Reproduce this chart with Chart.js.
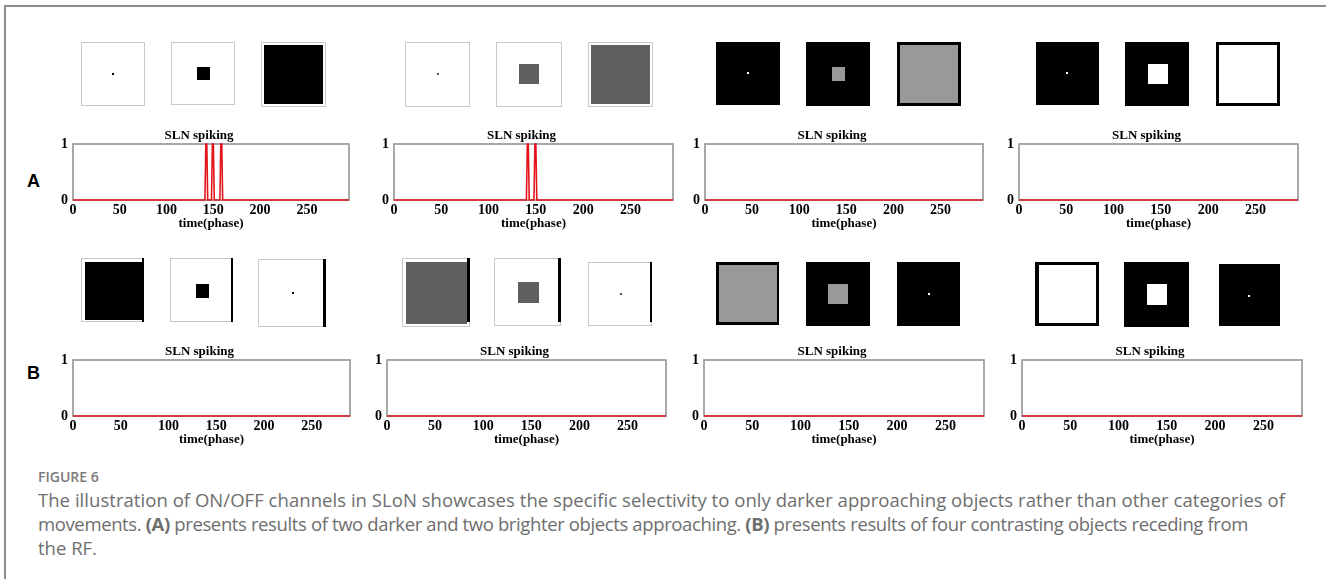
<!DOCTYPE html>
<html><head><meta charset="utf-8">
<script src="https://cdn.jsdelivr.net/npm/chart.js@4.4.1/dist/chart.umd.min.js"></script>
<style>
html,body{margin:0;padding:0;background:#fff;}
#page{position:relative;width:1326px;height:579px;overflow:hidden;background:#fff;}
#frame{position:absolute;left:4px;top:5px;width:1400px;height:700px;border-left:2px solid #8c8c8c;border-top:2px solid #8c8c8c;}
canvas{position:absolute;}
.r{position:absolute;box-sizing:border-box;}
.lab{position:absolute;font:bold 18px "Liberation Sans",Arial,sans-serif;line-height:18px;color:#000;}
#fig{position:absolute;left:38px;top:469px;font:600 14px "Open Sans",sans-serif;line-height:16px;color:#7a7a7a;}
#cap{position:absolute;left:38px;top:488px;font:400 18.5px "Open Sans",sans-serif;line-height:24px;color:#6e6e6e;white-space:nowrap;}
#cap span{letter-spacing:0;}
#cap b{font-weight:700;color:#6e6e6e;}
</style></head>
<body><div id="page"><div id="frame"></div>
<div class="lab" style="left:27px;top:172px">A</div>
<div class="lab" style="left:27px;top:364px">B</div>
<div id="fig">FIGURE 6</div>
<div id="cap"><span id="l1">The illustration of ON/OFF channels in SLoN showcases the specific selectivity to only darker approaching objects rather than other categories of</span><br><span id="l2">movements. <b>(A)</b> presents results of two darker and two brighter objects approaching. <b>(B)</b> presents results of four contrasting objects receding from</span><br><span id="l3">the RF.</span></div>
</div>
<script>
// ---- data ----
const xTicks = [0, 50, 100, 150, 200, 250];
const yTicks = [0, 1];
const phaseA1 = [0, 141, 142, 143, 144, 148, 149, 150, 151, 157, 158, 159, 160, 295];
const spikeA1 = [0, 0, 1, 1, 0, 0, 1, 1, 0, 0, 1, 1, 0, 0];
const phaseA2 = [0, 140, 141, 142, 143, 148, 149, 150, 151, 295];
const spikeA2 = [0, 0, 1, 1, 0, 0, 1, 1, 0, 0];
const phaseA3 = [0, 295];
const spikeA3 = [0, 0];
const phaseA4 = [0, 295];
const spikeA4 = [0, 0];
const phaseB1 = [0, 290];
const spikeB1 = [0, 0];
const phaseB2 = [0, 290];
const spikeB2 = [0, 0];
const phaseB3 = [0, 290];
const spikeB3 = [0, 0];
const phaseB4 = [0, 290];
const spikeB4 = [0, 0];
const titleText = 'SLN spiking';
const xTitle = 'time(phase)';

// fit the two long caption lines to the widths seen in the reference
[['l1', 1247], ['l2', 1210]].forEach(([id, target]) => {
  const el = document.getElementById(id);
  const w = el.getBoundingClientRect().width;
  const n = el.textContent.length;
  el.style.letterSpacing = ((target - w) / n).toFixed(3) + 'px';
  el.querySelectorAll('b').forEach(b => b.style.letterSpacing = 'inherit');
});

// ---- layout ----
const plots = [
  {l:73,  r:349,  t:144, b:200, xmax:295, xs:phaseA1, ys:spikeA1},
  {l:394, r:673,  t:144, b:200, xmax:295, xs:phaseA2, ys:spikeA2},
  {l:705, r:983,  t:144, b:200, xmax:295, xs:phaseA3, ys:spikeA3},
  {l:1019,r:1298, t:144, b:200, xmax:295, xs:phaseA4, ys:spikeA4},
  {l:73,  r:350,  t:360, b:416, xmax:290, xs:phaseB1, ys:spikeB1},
  {l:387, r:666,  t:360, b:416, xmax:290, xs:phaseB2, ys:spikeB2},
  {l:704, r:984,  t:360, b:416, xmax:290, xs:phaseB3, ys:spikeB3},
  {l:1022,r:1302, t:360, b:416, xmax:290, xs:phaseB4, ys:spikeB4}
];

// stimulus thumbnails (drawn as plain boxes)
const LB = '1px solid #c8c8c8';
const boxes = [
  [81,42,145,106,'#fff',LB],[112,73,114,75,'#000'],
  [171,42,235,105,'#fff',LB],[197,67,210,80,'#000'],
  [261,42,326,107,'#fff',LB],[264,45,323,104,'#000'],
  [405,42,470,107,'#fff',LB],[437,73,439,75,'#555'],
  [496,42,562,107,'#fff',LB],[519,64,539,84,'#5f5f5f'],
  [588,42,653,107,'#fff',LB],[591,45,650,104,'#5f5f5f'],
  [716,42,780,105,'#000'],[747,72,749,74,'#fff'],
  [806,42,870,106,'#000'],[832,67,845,81,'#999'],
  [897,42,961,106,'#000'],[900,45,958,103,'#999'],
  [1036,42,1099,105,'#000'],[1066,72,1068,74,'#fff'],
  [1125,42,1189,106,'#000'],[1148,64,1168,84,'#fff'],
  [1216,42,1280,106,'#000'],[1219,45,1277,103,'#fff'],
  [81,258,144,322,'#fff',LB],[85,262,142,320,'#000'],[142,258,144,322,'#000'],
  [170,258,233,322,'#fff',LB],[196,284,209,298,'#000'],[231,258,233,322,'#000'],
  [258,259,326,327,'#fff',LB],[292,292,294,294,'#000'],[323,259,326,327,'#000'],
  [402,258,470,327,'#fff',LB],[406,262,467,324,'#5f5f5f'],[467,258,470,322,'#000'],
  [494,258,561,326,'#fff',LB],[518,282,539,303,'#5f5f5f'],[558,258,561,322,'#000'],
  [588,262,652,326,'#fff',LB],[620,293,622,295,'#555'],[650,262,652,322,'#000'],
  [716,262,779,325,'#000'],[719,265,777,322,'#999'],
  [806,262,870,326,'#000'],[828,284,848,304,'#999'],
  [897,262,960,326,'#000'],[928,293,930,295,'#fff'],
  [1035,262,1099,326,'#000'],[1039,265,1096,323,'#fff'],
  [1124,262,1189,327,'#000'],[1147,284,1167,305,'#fff'],
  [1219,264,1280,326,'#000'],[1248,295,1250,297,'#fff']
];
const page = document.getElementById('page');
boxes.forEach(([x1,y1,x2,y2,bg,bd]) => {
  const d = document.createElement('div');
  d.className = 'r';
  d.style.left = x1 + 'px'; d.style.top = y1 + 'px';
  d.style.width = (x2 - x1) + 'px'; d.style.height = (y2 - y1) + 'px';
  d.style.background = bg;
  if (bd) d.style.border = bd;
  page.appendChild(d);
});

const YW = 24, PR = 6, TH = 21, XH = 31;
const serif = {family: '"Liberation Serif","Times New Roman",serif', size: 13, weight: 'bold', lineHeight: 1.2};
const tickFont = {family: '"Liberation Serif","Times New Roman",serif', size: 14, weight: 'bold', lineHeight: 1.1};

const boxPlugin = {
  id: 'frameBox',
  beforeDatasetsDraw(chart) {
    const {ctx, chartArea: a} = chart;
    ctx.save();
    ctx.strokeStyle = '#9a9a9a';
    ctx.lineWidth = 1.7;
    ctx.strokeRect(a.left, a.top, a.right - a.left, a.bottom - a.top);
    ctx.restore();
  }
};

plots.forEach(p => {
  const c = document.createElement('canvas');
  const w = (p.r - p.l) + YW + PR, h = TH + (p.b - p.t) + XH;
  c.width = w; c.height = h;
  c.style.left = (p.l - YW) + 'px'; c.style.top = (p.t - TH) + 'px';
  c.style.width = w + 'px'; c.style.height = h + 'px';
  page.appendChild(c);
  new Chart(c, {
    type: 'line',
    data: {
      datasets: [{
        data: p.xs.map((x, i) => ({x: x, y: p.ys[i]})),
        borderColor: '#e3141c',
        borderWidth: 1.6,
        pointRadius: 0,
        tension: 0,
        clip: 4
      }]
    },
    options: {
      responsive: false,
      animation: false,
      devicePixelRatio: 1,
      layout: {padding: {left: 0, right: PR, top: 0, bottom: 0}},
      plugins: {
        legend: {display: false},
        tooltip: {enabled: false},
        title: {display: true, text: titleText, color: '#000', font: serif, padding: {top: 4.4, bottom: 1}}
      },
      scales: {
        x: {
          type: 'linear', min: 0, max: p.xmax,
          grid: {display: false, drawTicks: false},
          border: {display: false},
          afterBuildTicks: s => { s.ticks = xTicks.map(v => ({value: v})); },
          afterFit: s => { s.height = XH; },
          ticks: {color: '#000', font: tickFont, padding: 3, maxRotation: 0, autoSkip: false},
          title: {display: true, text: xTitle, color: '#000', font: serif, padding: {top: 0, bottom: 0}}
        },
        y: {
          type: 'linear', min: 0, max: 1,
          grid: {display: false, drawTicks: false},
          border: {display: false},
          afterBuildTicks: s => { s.ticks = yTicks.map(v => ({value: v})); },
          afterFit: s => { s.width = YW; },
          ticks: {color: '#000', font: tickFont, padding: 5}
        }
      }
    },
    plugins: [boxPlugin]
  });
});
</script>
</body></html>
